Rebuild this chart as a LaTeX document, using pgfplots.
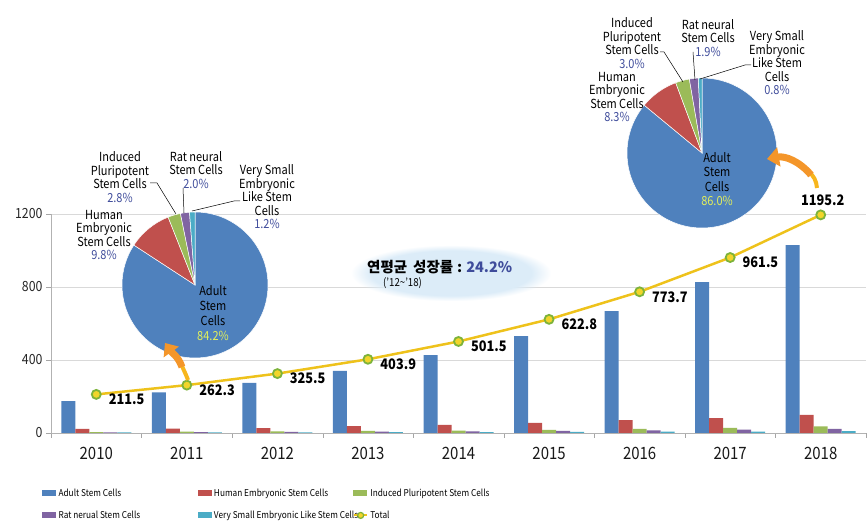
\documentclass[border=0pt]{standalone}
\usepackage{pgfplots}
\pgfplotsset{compat=1.18}
\usepackage{fontspec}
\setmainfont{Noto Sans CJK KR}[FakeStretch=0.88]
\newfontfamily\kr{Noto Sans CJK KR}
\usetikzlibrary{arrows.meta,fadings}
\definecolor{cAdult}{HTML}{4F81BD}
\definecolor{cHuman}{HTML}{C0504D}
\definecolor{cIPS}{HTML}{9BBB59}
\definecolor{cRat}{HTML}{8064A2}
\definecolor{cVSEL}{HTML}{4BACC6}
\definecolor{cLine}{HTML}{EEC21B}
\definecolor{cMarkG}{HTML}{7DB33A}
\definecolor{cMarkY}{HTML}{F2D52A}
\definecolor{cPct}{HTML}{3F4C9B}
\definecolor{cIn}{HTML}{E4F05A}
\definecolor{cArrow}{HTML}{F4962A}
\definecolor{cGlow}{HTML}{DCECF8}
\pgfplotsset{barleg/.style={legend image code/.code={\fill[##1] (0pt,-3pt) rectangle (14pt,3pt);}}}
\newcommand{\pielab}{\fontsize{12.5}{13.5}\selectfont}
\begin{document}
\begin{tikzpicture}
\begin{axis}[
  at={(0pt,0pt)}, anchor=south west,
  scale only axis, width=815pt, height=219pt,
  xmin=-0.5, xmax=8.5, ymin=0, ymax=1200,
  axis lines=left, axis line style={-, draw=gray!60},
  clip=false,
  tick align=outside, major tick length=5pt,
  tick style={draw=gray!70},
  xtick={-0.5,0.5,...,8.5}, xticklabel={\mbox{}},
  extra x ticks={0,1,2,3,4,5,6,7,8},
  extra x tick labels={2010,2011,2012,2013,2014,2015,2016,2017,2018},
  extra x tick style={major tick length=0pt},
  x tick label style={font=\fontsize{17}{17}\selectfont, text=black!90, yshift=-11pt},
  ytick={0,400,800,1200}, yticklabels={0,400,800,1200},
  y tick label style={font=\fontsize{14}{14}\selectfont, text=black!85},
  ymajorgrids, grid style={draw=gray!30, line width=0.6pt},
  legend columns=3,
  legend style={draw=none, fill=none, font=\fontsize{9.4}{9.4}\selectfont,
    at={(axis description cs:-0.0145,-0.243)}, anchor=north west,
    nodes={inner sep=0pt, text height=8pt, text depth=2pt, inner xsep=2.2pt},
    row sep=12pt, column sep=0pt},
  legend cell align=left,
]
\addplot[ybar, bar width=14pt, bar shift=-28pt, fill=cAdult, draw=none, barleg] coordinates {(0,175) (1,222) (2,274) (3,340) (4,427) (5,531) (6,668) (7,827) (8,1030)};
\addlegendentry{\makebox[137pt][l]{Adult Stem Cells}}
\addplot[ybar, bar width=14pt, bar shift=-14pt, fill=cHuman, draw=none, barleg] coordinates {(0,22) (1,24) (2,27) (3,38) (4,44) (5,55) (6,71) (7,82) (8,99)};
\addlegendentry{\makebox[137pt][l]{Human Embryonic Stem Cells}}
\addplot[ybar, bar width=14pt, bar shift=0pt, fill=cIPS, draw=none, barleg] coordinates {(0,5) (1,7) (2,9) (3,11) (4,13) (5,17) (6,22) (7,28) (8,36)};
\addlegendentry{Induced Pluripotent Stem Cells}
\addplot[ybar, bar width=14pt, bar shift=14pt, fill=cRat, draw=none, barleg] coordinates {(0,4) (1,5) (2,6) (3,8) (4,9) (5,11) (6,14) (7,18) (8,23)};
\addlegendentry{\makebox[137pt][l]{Rat nerual Stem Cells}}
\addplot[ybar, bar width=14pt, bar shift=28pt, fill=cVSEL, draw=none, barleg] coordinates {(0,3) (1,3) (2,4) (3,5) (4,5) (5,6) (6,7) (7,8) (8,10)};
\addlegendentry{\makebox[137pt][l]{Very Small Embryonic Like Stem Cells}}
\addplot[color=cLine, line width=2.5pt, mark=*, mark size=4.5pt, mark options={draw=cMarkG, fill=cMarkY, line width=1.8pt},
  legend image code/.code={\draw[cLine, line width=2pt] (1pt,0pt) -- (14pt,0pt); \draw[cMarkG, fill=cMarkY, line width=1.2pt] (7.5pt,0pt) circle (3pt);}] coordinates {(0,211.5) (1,262.3) (2,325.5) (3,403.9) (4,501.5) (5,622.8) (6,773.7) (7,961.5) (8,1195.2)};
\addlegendentry{Total}
\tikzset{tl/.style={anchor=west, font=\bfseries\fontsize{14.5}{14.5}\selectfont, xshift=9pt, yshift=-5pt}}
\node[tl] at (axis cs:0,211.5) {211.5};
\node[tl] at (axis cs:1,262.3) {262.3};
\node[tl] at (axis cs:2,325.5) {325.5};
\node[tl] at (axis cs:3,403.9) {403.9};
\node[tl] at (axis cs:4,501.5) {501.5};
\node[tl] at (axis cs:5,622.8) {622.8};
\node[tl] at (axis cs:6,773.7) {773.7};
\node[tl] at (axis cs:7,961.5) {961.5};
\node[anchor=south, font=\bfseries\fontsize{14.5}{14.5}\selectfont, yshift=6pt, xshift=2pt] at (axis cs:8,1195.2) {1195.2};
\end{axis}
% growth-rate note
\fill[cGlow, path fading=circle with fuzzy edge 20 percent] (300pt,132pt) rectangle (500pt,188pt);
\node[anchor=west, font=\kr\bfseries\fontsize{14.5}{14.5}\selectfont, inner sep=0pt] at (316pt,166pt) {연평균\hspace{6pt}성장률\hspace{4pt}:\hspace{4pt}\textcolor{cPct}{24.2\%}};
\node[anchor=west, font=\fontsize{11}{11}\selectfont, inner sep=0pt] at (332pt,150pt) {('12\textasciitilde'18)};
% left pie (2011)
\def\curang{90}
\foreach \p/\c in {84.2/cAdult, 9.8/cHuman, 2.8/cIPS, 2.0/cRat, 1.2/cVSEL} {
  \pgfmathsetmacro\e{\curang-3.6*\p}
  \fill[\c, draw=white, line width=0.5pt] (144pt,148pt) -- ++(\curang:73pt) arc[start angle=\curang, end angle=\e, radius=73pt] -- cycle;
  \global\let\curang\e
}
% right pie (2018)
\def\curang{90}
\foreach \p/\c in {86.0/cAdult, 8.3/cHuman, 3.0/cIPS, 1.9/cRat, 0.8/cVSEL} {
  \pgfmathsetmacro\e{\curang-3.6*\p}
  \fill[\c, draw=white, line width=0.5pt] (651pt,280pt) -- ++(\curang:75pt) arc[start angle=\curang, end angle=\e, radius=75pt] -- cycle;
  \global\let\curang\e
}
% leader lines
\draw[black, line width=0.5pt] (99pt,250pt) -- (106pt,250pt) -- (125pt,219pt);
\draw[black, line width=0.5pt] (132pt,245pt) -- (133pt,220pt);
\draw[black, line width=0.5pt] (189pt,232pt) -- (183pt,232pt) -- (141pt,222pt);
\draw[black, line width=0.5pt] (609pt,381pt) -- (613pt,381pt) -- (632pt,351pt);
\draw[black, line width=0.5pt] (642pt,381pt) -- (644pt,353pt);
\draw[black, line width=0.5pt] (700pt,368pt) -- (694pt,368pt) -- (649pt,354pt);
% pie labels
\node[align=center, font=\pielab, inner sep=0pt] at (69pt,256pt) {Induced\\Pluripotent\\Stem Cells\\\textcolor{cPct}{2.8\%}};
\node[align=center, font=\pielab, inner sep=0pt] at (145pt,263pt) {Rat neural\\Stem Cells\\\textcolor{cPct}{2.0\%}};
\node[align=center, font=\pielab, inner sep=0pt] at (216pt,236pt) {Very Small\\Embryonic\\Like Stem\\Cells\\\textcolor{cPct}{1.2\%}};
\node[align=center, font=\pielab, inner sep=0pt] at (53pt,198pt) {Human\\Embryonic\\Stem Cells\\\textcolor{cPct}{9.8\%}};
\node[align=center, font=\fontsize{12.5}{15}\selectfont, inner sep=0pt] at (162pt,120pt) {Adult\\Stem\\Cells\\\textcolor{cIn}{84.2\%}};
\node[align=center, font=\pielab, inner sep=0pt] at (581pt,390pt) {Induced\\Pluripotent\\Stem Cells\\\textcolor{cPct}{3.0\%}};
\node[align=center, font=\pielab, inner sep=0pt] at (657pt,395pt) {Rat neural\\Stem Cells\\\textcolor{cPct}{1.9\%}};
\node[align=center, font=\pielab, inner sep=0pt] at (726pt,370pt) {Very Small\\Embryonic\\Like Stem\\Cells\\\textcolor{cPct}{0.8\%}};
\node[align=center, font=\pielab, inner sep=0pt] at (566pt,336pt) {Human\\Embryonic\\Stem Cells\\\textcolor{cPct}{8.3\%}};
\node[align=center, font=\fontsize{12.5}{14.5}\selectfont, inner sep=0pt] at (666pt,254pt) {Adult\\Stem\\Cells\\\textcolor{cIn}{86.0\%}};
% arrows
\draw[cArrow!70!yellow, line width=4pt] (137pt,53pt) to[out=110, in=-70] (129pt,72pt);
\draw[cArrow, line width=7pt, -{Triangle[width=18pt,length=11pt]}] (131pt,66pt) to[out=110, in=-55] (114pt,90pt);
\draw[cArrow!70!yellow, line width=4pt] (766pt,245pt) to[out=95, in=-40] (757pt,262pt);
\draw[cArrow, line width=7pt, -{Triangle[width=19pt,length=12pt]}] (760pt,258pt) to[out=130, in=10] (716pt,274pt);
\pgfresetboundingbox
\path[use as bounding box] (-51pt,-96pt) rectangle (816pt,433pt);
\end{tikzpicture}
\end{document}
